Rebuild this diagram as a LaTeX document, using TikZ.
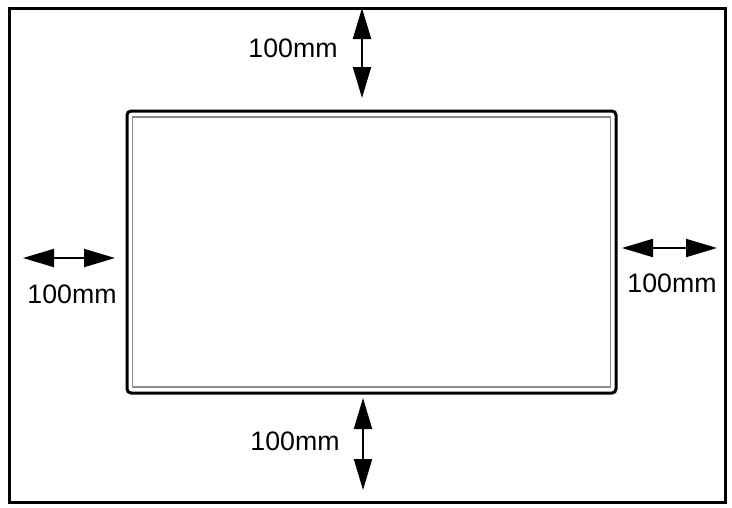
\documentclass[tikz,border=0pt]{standalone}
\usepackage{fontspec}
\setmainfont{Liberation Sans}
\usetikzlibrary{arrows.meta}
\begin{document}
\begin{tikzpicture}[x=1pt,y=-1pt,
  dimarrow/.style={line width=2pt,{Triangle[length=31pt,width=18pt]}-{Triangle[length=31pt,width=18pt]}},
  dimlabel/.style={inner sep=0pt,font=\fontsize{26.7}{30}\selectfont}]
\useasboundingbox (0,0) rectangle (732,507);
\fill[white] (0,0) rectangle (732,507);
% outer frame
\node[draw=black,line width=2.8pt,minimum width=716pt,minimum height=494pt,inner sep=0pt,anchor=north west] (frame) at (8,7) {};
% screen
\node[draw=black,line width=3pt,rounded corners=4pt,minimum width=489pt,minimum height=282pt,inner sep=0pt] (screen) at (371.5,252) {};
\node[draw=black!45,line width=1.6pt,minimum width=478pt,minimum height=270pt,inner sep=0pt] (bezel) at (371.5,252) {};
% arrow end points
\coordinate (t1) at (362,8);
\coordinate (t2) at (362,98);
\coordinate (b1) at (363,398);
\coordinate (b2) at (363,490);
\coordinate (l1) at (23,258);
\coordinate (l2) at (115,258);
\coordinate (r1) at (622,248);
\coordinate (r2) at (717,248);
\draw[dimarrow] (t1) -- (t2);
\draw[dimarrow] (b1) -- (b2);
\draw[dimarrow] (l1) -- (l2);
\draw[dimarrow] (r1) -- (r2);
% labels
\node[dimlabel] (lt) at (293,48) {100mm};
\node[dimlabel] (lb) at (295,441) {100mm};
\node[dimlabel] (ll) at (72,294) {100mm};
\node[dimlabel] (lr) at (672,283) {100mm};
\end{tikzpicture}
\end{document}
